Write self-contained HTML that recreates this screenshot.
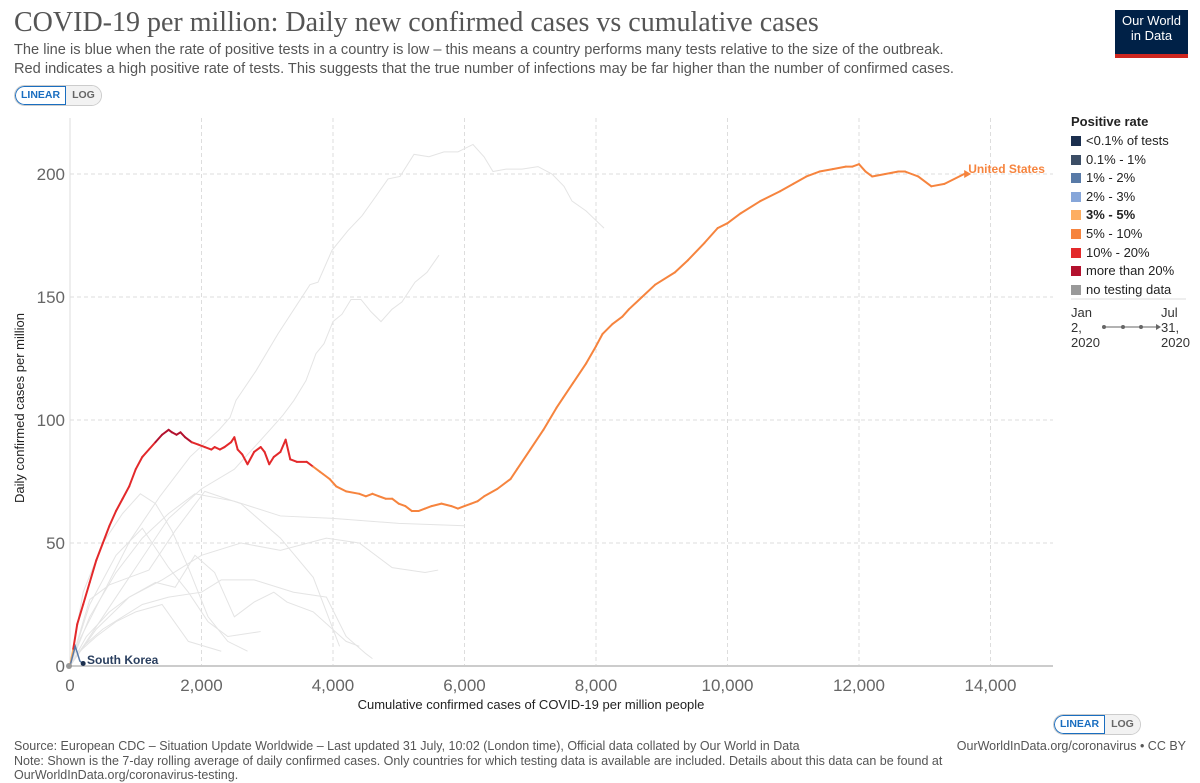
<!DOCTYPE html>
<html><head><meta charset="utf-8">
<style>
body{margin:0;width:1200px;height:783px;background:#fff;font-family:"Liberation Sans",sans-serif;overflow:hidden;position:relative}
.t{position:absolute;white-space:nowrap}
.btn{position:absolute;display:flex;border:1px solid #ccc;border-radius:12px;overflow:hidden;font-size:10.5px;font-weight:bold;height:19px}
.btn span{padding:0 6px;line-height:19px;color:#666;background:#f2f2f2}
.btn span.on{background:#fff;color:#1a6ec0;box-shadow:inset 0 0 0 1px #1a6ec0;border-radius:12px 0 0 12px}
</style></head><body>
<div class="t" style="left:14px;top:7px;font-family:'Liberation Serif',serif;font-size:28px;color:#555">COVID-19 per million: Daily new confirmed cases vs cumulative cases</div>
<div class="t" style="left:14px;top:41px;font-size:14.6px;color:#555;line-height:19px">The line is blue when the rate of positive tests in a country is low – this means a country performs many tests relative to the size of the outbreak.<br>Red indicates a high positive rate of tests. This suggests that the true number of infections may be far higher than the number of confirmed cases.</div>
<div style="position:absolute;left:1115px;top:10px;width:73px;height:48px;background:#002147;color:#fff;font-size:13px;text-align:center;line-height:15px;padding-top:3px;box-sizing:border-box;border-bottom:4px solid #ce261e">Our World<br>in Data</div>
<div class="btn" style="left:14px;top:85px"><span class="on">LINEAR</span><span>LOG</span></div>
<div class="btn" style="left:1053px;top:714px"><span class="on">LINEAR</span><span>LOG</span></div>
<svg id="chart" width="1200" height="783" style="position:absolute;left:0;top:0"></svg>
<div class="t" style="left:1071px;top:114px;font-size:13px;font-weight:bold;color:#222">Positive rate</div>
<div id="legend"></div>
<div class="t" style="left:1071px;top:305px;font-size:13px;color:#333;line-height:15px">Jan<br>2,<br>2020</div>
<div class="t" style="left:1161px;top:305px;font-size:13px;color:#333;line-height:15px">Jul<br>31,<br>2020</div>
<div class="t" style="left:14px;top:739px;font-size:12.5px;color:#555;line-height:14.5px">Source: European CDC – Situation Update Worldwide – Last updated 31 July, 10:02 (London time), Official data collated by Our World in Data<br>Note: Shown is the 7-day rolling average of daily confirmed cases. Only countries for which testing data is available are included. Details about this data can be found at<br>OurWorldInData.org/coronavirus-testing.</div>
<div class="t" style="right:14px;top:739px;font-size:12.5px;color:#555">OurWorldInData.org/coronavirus • CC BY</div>
<script>
const xTicks=[0,2000,4000,6000,8000,10000,12000,14000];
const yTicks=[0,50,100,150,200];
const usX=[0,50,110,200,300,400,500,600,700,800,900,1000,1100,1200,1300,1400,1500,1550,1620,1680,1750,1850,1950,2050,2150,2200,2280,2350,2450,2500,2550,2620,2700,2800,2900,2960,3030,3100,3200,3280,3350,3450,3600,3700,3800,3850,3950,4050,4200,4400,4500,4600,4700,4800,4900,5000,5100,5200,5300,5400,5500,5650,5800,5900,6000,6100,6200,6300,6500,6700,6800,7000,7200,7400,7500,7650,7850,8000,8100,8250,8400,8500,8700,8900,9200,9400,9650,9850,10000,10200,10500,10800,11000,11200,11400,11600,11800,11900,12000,12100,12200,12400,12600,12700,12800,12900,13100,13300,13600];
const usY=[0,7,17,25,34,43,50,57,63,68,73,80,85,88,91,94,96,95,94,95,93,91,90,89,88,89,88,89,91,93,88,86,82,87,89,87,82,85,87,92,84,83,83,81,79,78,76,73,71,70,69,70,69,68,68,66,65,63,63,64,65,66,65,64,65,66,67,69,72,76,80,88,96,105,109,115,123,130,135,139,142,145,150,155,160,165,172,178,180,184,189,193,196,199,201,202,203,203,204,201,199,200,201,201,200,199,195,196,200];
const usRate=usX.map(x=>x<=60?4:(x<1400?6:(x<1950?7:(x<3800?6:5))));
const rateLabels=["<0.1% of tests","0.1% - 1%","1% - 2%","2% - 3%","3% - 5%","5% - 10%","10% - 20%","more than 20%","no testing data"];
const rateColors=["#1b2f4e","#3c4e66","#587aa7","#86a6d9","#fdae61","#f6843e","#e3292b","#b3112e","#999"];
const krX=[0,80,150,200];
const krY=[0,8,2,1];
const grayX=[
[0,152,456,913,1369,1825,2266,2433,2525,2829,3163,3650,3772,3985,4228,4441,4654,4837,5019,5232,5460,5688,5901,6129,6297,6433,6631,6874,7118,7331,7513,7635,7848,8122],
[0,500,1000,1500,2000,2500,3042,3240,3407,3589,3741,3863,4000,4137,4274,4426,4578,4730,4897,5049,5247,5429,5612],
[0,300,600,900,1200,1600,2050,2600,3200,3700,4000,4100],
[0,200,500,800,1070,1300,1550,1800,2100,2400,2700],
[0,300,700,1100,1500,1900,2500,3200,4000,5000,6000],
[0,400,900,1400,2000,2600,3200,3900,4400,4900,5400,5600],
[0,300,700,1100,1500,1800,2100,2400,2900],
[0,250,600,900,1300,1600,1900,2200,2500,2800,3100,3300,3700,4200,4400],
[0,200,500,800,1100,1500,2000,2300,2800,3400,3900,4200,4500,4600],
[0,150,400,700,1000,1400,1800,2300]];
const grayY=[
[0,11,27,51,69,85,96,101,108,120,135,155,156,169,177,183,191,198,199,208,207,209,209,212,207,201,202,202,203,200,195,189,185,178],
[0,20,40,60,72,80,96,102,108,116,127,131,140,143,149,149,144,140,145,148,156,160,167],
[0,27,33,36,39,55,71,66,52,36,15,8],
[0,30,50,62,70,66,55,40,20,10,6],
[0,20,38,52,62,70,67,61,60,58,57],
[0,15,28,35,45,50,47,52,50,40,38,39],
[0,25,45,56,40,30,18,12,14],
[0,12,22,28,34,32,45,38,20,26,30,26,22,10,8],
[0,8,15,20,25,28,30,35,35,30,28,12,5,3],
[0,6,12,18,22,25,10,6]];

const X0=70,XS=65.75/1000,Y0=666,YS=2.46;
const sx=v=>X0+v*XS, sy=v=>Y0-v*YS;
const svg=document.getElementById('chart');
const NS='http://www.w3.org/2000/svg';
function mk(tag,attrs,parent){const e=document.createElementNS(NS,tag);for(const k in attrs)e.setAttribute(k,attrs[k]);(parent||svg).appendChild(e);return e;}
yTicks.forEach(v=>{
  if(v>0){const g=mk('line',{x1:X0,x2:1053,y1:sy(v),y2:sy(v),stroke:'#ddd','stroke-dasharray':'4,3'});
  
  }
  const t=mk('text',{x:X0-5,y:sy(v)+6,'text-anchor':'end','font-size':17,fill:'#666','font-family':'Liberation Sans'});t.textContent=v;
  
  
});
xTicks.forEach(v=>{
  if(v>0){const g=mk('line',{x1:sx(v),x2:sx(v),y1:118,y2:Y0,stroke:'#ddd','stroke-dasharray':'4,3'});
  
  }
  const t=mk('text',{x:sx(v),y:691,'text-anchor':'middle','font-size':17,fill:'#666','font-family':'Liberation Sans'});t.textContent=v.toLocaleString('en-US');
  
  
});
const ax=mk('line',{x1:X0,x2:1053,y1:Y0,y2:Y0,stroke:'#ccc','stroke-width':2});


const ay=mk('line',{x1:X0,x2:X0,y1:118,y2:Y0,stroke:'#ddd'});


const xt=mk('text',{x:531,y:709,'text-anchor':'middle','font-size':13,fill:'#222','font-family':'Liberation Sans'});xt.textContent='Cumulative confirmed cases of COVID-19 per million people';


const yt=mk('text',{x:0,y:0,'text-anchor':'middle','font-size':13,fill:'#222','font-family':'Liberation Sans',transform:'translate(24,408) rotate(-90)'});yt.textContent='Daily confirmed cases per million';


grayX.forEach((xs,i)=>{
  const p=mk('polyline',{points:xs.map((x,j)=>sx(x)+','+sy(grayY[i][j])).join(' '),fill:'none',stroke:'#e4e4e4','stroke-width':1});
  
  
});
for(let i=1;i<usX.length;i++){
  const s=mk('line',{x1:sx(usX[i-1]),y1:sy(usY[i-1]),x2:sx(usX[i]),y2:sy(usY[i]),stroke:rateColors[usRate[i]],'stroke-width':2,'stroke-linecap':'round'});
  
  
}
const n=usX.length-1;
const ar=mk('path',{d:`M${sx(usX[n])},${sy(usY[n])-4} l7,4 l-7,4 z`,fill:rateColors[5]});


const ul=mk('text',{x:sx(usX[n])+4,y:sy(usY[n])-1,'font-size':12,'font-weight':'bold',fill:rateColors[5],'font-family':'Liberation Sans'});ul.textContent='United States';


const kr=mk('polyline',{points:krX.map((x,j)=>sx(x)+','+sy(krY[j])).join(' '),fill:'none',stroke:'#587aa7','stroke-width':1.5});


const kd=mk('circle',{cx:sx(krX[3]),cy:sy(krY[3]),r:2.5,fill:'#1b2f4e'});


const kl=mk('text',{x:87,y:664,'font-size':12,'font-weight':'bold',fill:'#2a3f5f','font-family':'Liberation Sans'});kl.textContent='South Korea';


const od=mk('circle',{cx:X0-1,cy:Y0,r:3,fill:'#999'});


const lg=document.getElementById('legend');
rateLabels.forEach((l,i)=>{
  const r=document.createElement('div');
  
  
  r.className='t';r.style.cssText=`left:1071px;top:${133+i*18.6}px;font-size:13px;color:#222;${i==4?'font-weight:bold;':''}`;
  r.innerHTML=`<span style="display:inline-block;width:10px;height:10px;background:${rateColors[i]};margin-right:5px;vertical-align:-1px"></span>${l}`;
  lg.appendChild(r);
});
const sep=mk('line',{x1:1071,x2:1186,y1:299,y2:299,stroke:'#ddd'});


const tl=mk('line',{x1:1104,x2:1157,y1:327,y2:327,stroke:'#666'});


[1104,1123,1141].forEach(x=>{const c=mk('circle',{cx:x,cy:327,r:2,fill:'#666'});

});
const th=mk('path',{d:'M1156,324 l5,3 l-5,3 z',fill:'#666'});


</script>
</body></html>
